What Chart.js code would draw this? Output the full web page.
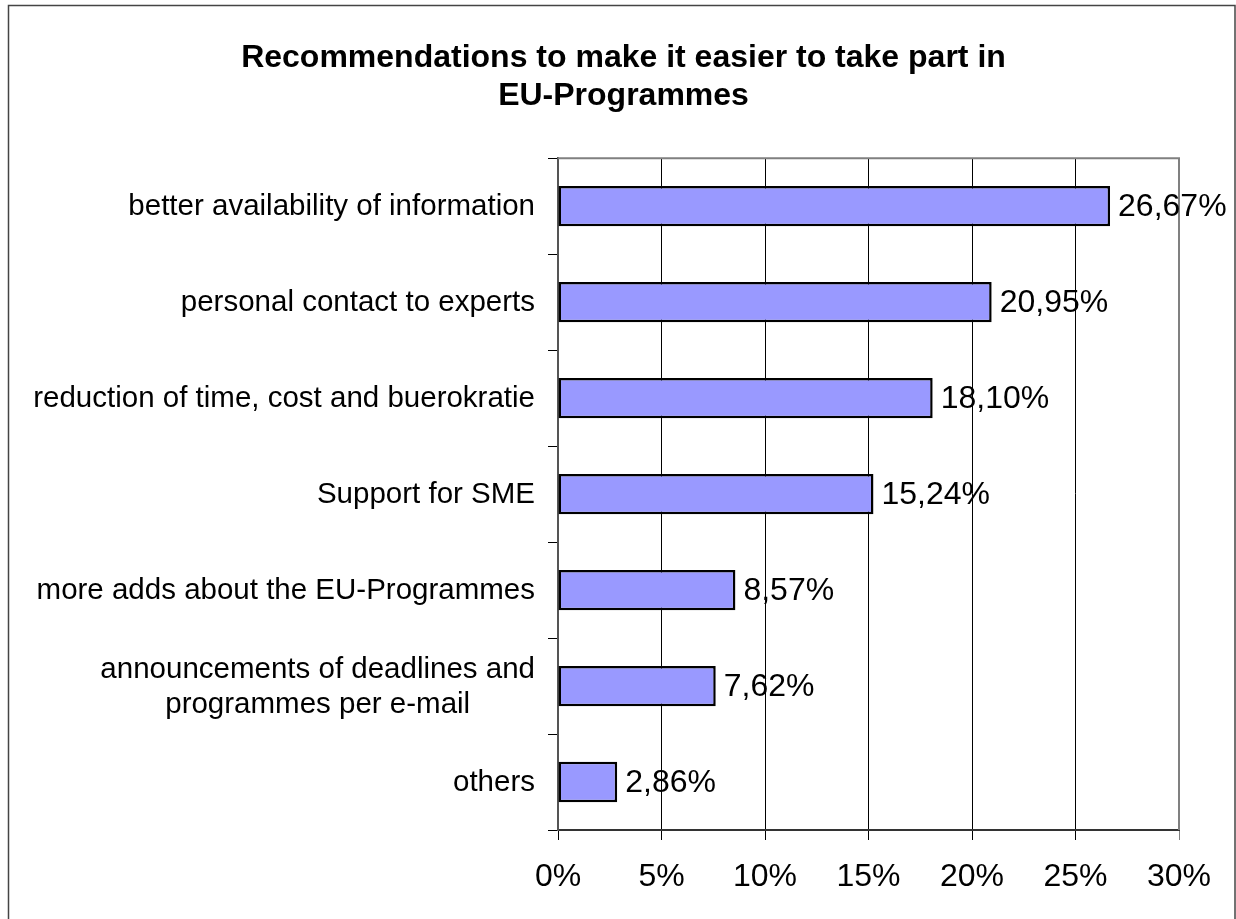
<!DOCTYPE html>
<html>
<head>
<meta charset="utf-8">
<title>Recommendations to make it easier to take part in EU-Programmes</title>
<script src="https://cdn.jsdelivr.net/npm/chart.js@4/dist/chart.umd.min.js"></script>
<style>
	html, body { margin: 0; padding: 0; background: #fff; }
	canvas { display: block; }
</style>
</head>
<body>
<canvas id="chart" width="1236" height="919"></canvas>
<script>
const titleLines = ['Recommendations to make it easier to take part in', 'EU-Programmes'];

const categories = [
	'better availability of information',
	'personal contact to experts',
	'reduction of time, cost and buerokratie',
	'Support for SME',
	'more adds about the EU-Programmes',
	['announcements of deadlines and', 'programmes per e-mail'],
	'others'
];

const shares = [26.67, 20.95, 18.10, 15.24, 8.57, 7.62, 2.86];

const axisMin = 0;
const axisMax = 30;
const axisStep = 5;

const FONT = '"Liberation Sans", Arial, sans-serif';

function percentLabel(v) {
	return v.toFixed(2).replace('.', ',') + '%';
}

// outer frame, plot border and the text next to the bars
const decorations = {
	id: 'decorations',
	beforeDatasetsDraw(chart) {
		const ctx = chart.ctx;
		const a = chart.chartArea;
		ctx.save();
		ctx.strokeStyle = '#808080';
		ctx.lineWidth = 2;
		ctx.beginPath();
		ctx.moveTo(a.left, a.top);
		ctx.lineTo(a.right, a.top);
		ctx.lineTo(a.right, a.bottom);
		ctx.stroke();
		ctx.restore();
	},
	afterDraw(chart) {
		const ctx = chart.ctx;
		const yScale = chart.scales.y;
		const meta = chart.getDatasetMeta(0);
		ctx.save();

		// value labels
		ctx.fillStyle = '#000';
		ctx.font = '32px ' + FONT;
		ctx.textAlign = 'left';
		ctx.textBaseline = 'middle';
		meta.data.forEach(function(bar, i) {
			ctx.fillText(percentLabel(shares[i]), bar.x + 8, bar.y + 1);
		});

		// category labels: block right aligned, lines centred inside the block
		ctx.font = '29.5px ' + FONT;
		const lineH = 35;
		const right = chart.chartArea.left - 23;
		categories.forEach(function(cat, i) {
			const lines = Array.isArray(cat) ? cat : [cat];
			const widths = lines.map(function(l) { return ctx.measureText(l).width; });
			const blockW = Math.max.apply(null, widths);
			const cx = right - blockW / 2;
			const y0 = yScale.getPixelForValue(i) - (lines.length - 1) * lineH / 2;
			ctx.textAlign = 'center';
			lines.forEach(function(l, j) {
				ctx.fillText(l, cx, y0 + j * lineH + 1);
			});
		});

		// frame around the whole chart
		ctx.strokeStyle = '#444';
		ctx.lineWidth = 1.5;
		ctx.strokeRect(8.5, 5.5, 1226.5, 930);
		ctx.restore();
	}
};

const chart = new Chart(document.getElementById('chart').getContext('2d'), {
	type: 'bar',
	data: {
		labels: categories,
		datasets: [{
			data: shares,
			backgroundColor: '#9999FF',
			borderColor: '#000',
			borderWidth: 2.5,
			borderSkipped: false,
			categoryPercentage: 1,
			barPercentage: 0.42
		}]
	},
	options: {
		indexAxis: 'y',
		responsive: false,
		animation: false,
		devicePixelRatio: 1,
		layout: {
			padding: {left: 68, right: 57, top: 0, bottom: 0}
		},
		plugins: {
			legend: {display: false},
			tooltip: {enabled: false},
			title: {
				display: true,
				text: titleLines,
				color: '#000',
				font: {family: FONT, size: 32, weight: 'bold', lineHeight: 1.19},
				padding: {top: 39, bottom: 43}
			}
		},
		scales: {
			x: {
				min: axisMin,
				max: axisMax,
				afterFit(scale) {
					scale.height = 89;
				},
				ticks: {
					stepSize: axisStep,
					color: '#000',
					padding: 18,
					font: {family: FONT, size: 32},
					callback: function(v) { return v + '%'; }
				},
				grid: {
					color: function(ctx) {
						return ctx.tick && ctx.tick.value === axisMax ? '#808080' : '#000';
					},
					lineWidth: 1,
					tickLength: 10
				},
				border: {color: '#333', width: 2}
			},
			y: {
				afterFit(scale) {
					scale.width = 490;
				},
				ticks: {display: false},
				grid: {
					drawOnChartArea: false,
					color: '#000',
					lineWidth: 1,
					tickLength: 10
				},
				border: {color: '#555', width: 2}
			}
		}
	},
	plugins: [decorations]
});
</script>
</body>
</html>
